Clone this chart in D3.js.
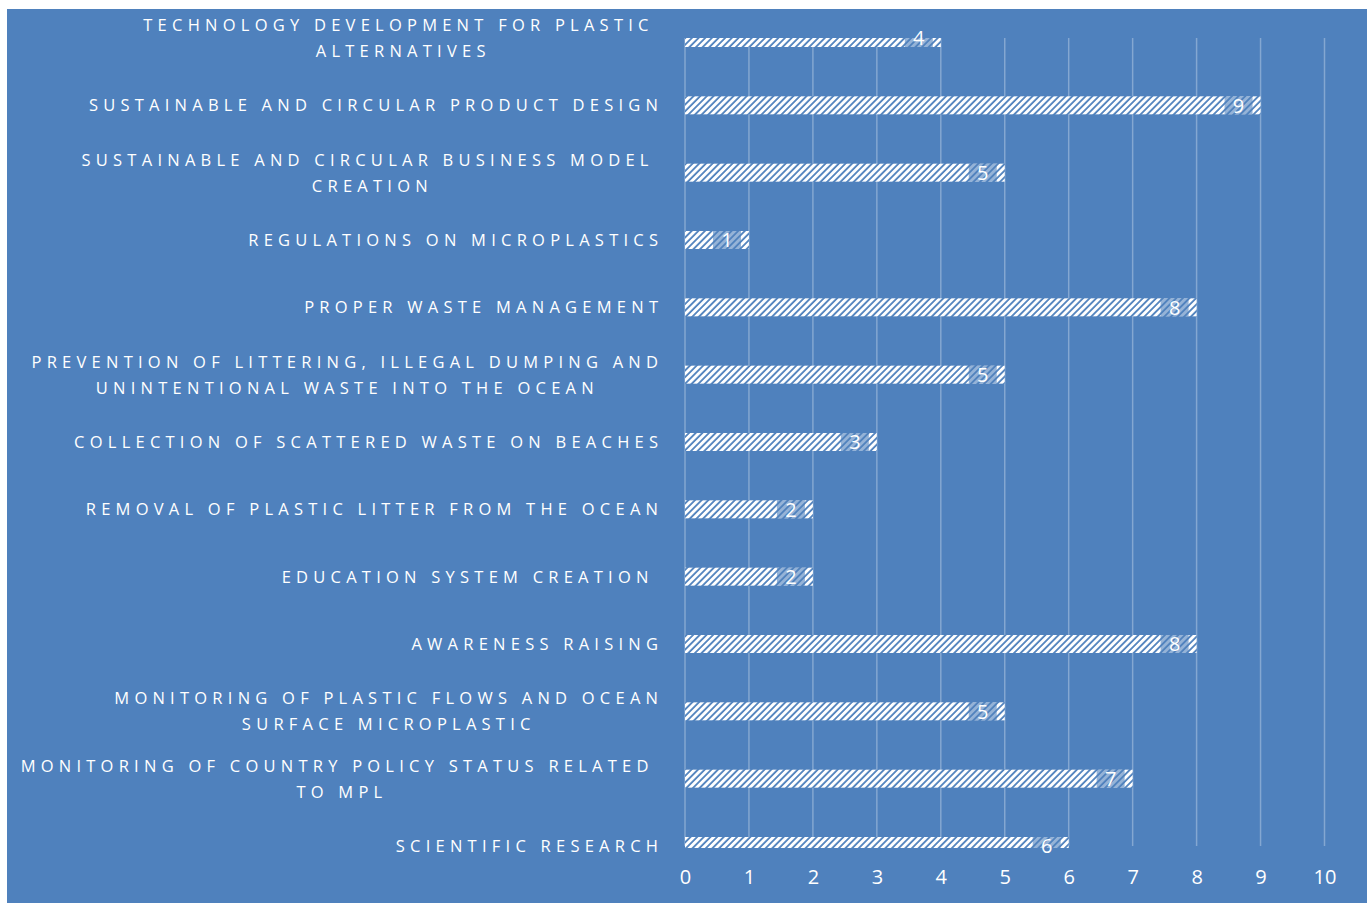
<!DOCTYPE html>
<html><head><meta charset="utf-8">
<script src="https://cdn.jsdelivr.net/npm/d3@7"></script>
<style>body{margin:0;background:#fff}svg{display:block}</style>
</head><body>
<svg id="c" width="1371" height="903"></svg>
<script>
// ---- data ----
const categories = [
  "TECHNOLOGY DEVELOPMENT FOR PLASTIC \nALTERNATIVES",
  "SUSTAINABLE AND CIRCULAR PRODUCT DESIGN",
  "SUSTAINABLE AND CIRCULAR BUSINESS MODEL \nCREATION",
  "REGULATIONS ON MICROPLASTICS",
  "PROPER WASTE MANAGEMENT",
  "PREVENTION OF LITTERING, ILLEGAL DUMPING AND\nUNINTENTIONAL WASTE INTO THE OCEAN",
  "COLLECTION OF SCATTERED WASTE ON BEACHES",
  "REMOVAL OF PLASTIC LITTER FROM THE OCEAN",
  "EDUCATION SYSTEM CREATION ",
  "AWARENESS RAISING",
  "MONITORING OF PLASTIC FLOWS AND OCEAN\nSURFACE MICROPLASTIC",
  "MONITORING OF COUNTRY POLICY STATUS RELATED \nTO MPL",
  "SCIENTIFIC RESEARCH"
];
const values = [4, 9, 5, 1, 8, 5, 3, 2, 2, 8, 5, 7, 6];
const tickValues = [0, 1, 2, 3, 4, 5, 6, 7, 8, 9, 10];

// ---- layout ----
const W = 1371, H = 903;
const BG = "#4f81bd";
const plot = {left: 685, right: 1324.5, top: 38, bottom: 846};
const barH = 18;
const labelRight = 658;

const svg = d3.select("#c");
svg.append("rect").attr("x", 7).attr("y", 9).attr("width", 1360).attr("height", H - 9).attr("fill", BG);

const defs = svg.append("defs");
const pat = defs.append("pattern").attr("id", "hatch").attr("patternUnits", "userSpaceOnUse")
  .attr("width", 4.7).attr("height", 4.7).attr("patternTransform", "rotate(45)");
pat.append("rect").attr("width", 4.7).attr("height", 4.7).attr("fill", BG);
pat.append("rect").attr("width", 2.9).attr("height", 4.7).attr("fill", "#ffffff");
defs.append("clipPath").attr("id", "plotclip").append("rect")
  .attr("x", plot.left - 2).attr("y", plot.top).attr("width", plot.right - plot.left + 4).attr("height", plot.bottom + 2 - plot.top);

const x = d3.scaleLinear().domain([0, 10]).range([plot.left, plot.right]);
const y = d3.scalePoint().domain(categories).range([plot.top, plot.bottom]);

// gridlines
svg.append("g").selectAll("line").data(tickValues).join("line")
  .attr("x1", d => x(d)).attr("x2", d => x(d))
  .attr("y1", plot.top).attr("y2", plot.bottom)
  .attr("stroke", "rgba(255,255,255,0.3)").attr("stroke-width", 1.5);

// bars
const data = categories.map((c, i) => ({c, v: values[i]}));
const bars = svg.append("g").attr("clip-path", "url(#plotclip)");
bars.selectAll("rect.bar").data(data).join("rect").attr("class", "bar")
  .attr("x", x(0)).attr("y", d => y(d.c) - barH / 2)
  .attr("width", d => x(d.v) - x(0)).attr("height", barH)
  .attr("fill", "url(#hatch)");
bars.selectAll("rect.lbl").data(data).join("rect").attr("class", "lbl")
  .attr("x", d => x(d.v) - 36).attr("y", d => y(d.c) - barH / 2)
  .attr("width", 28).attr("height", barH)
  .attr("fill", BG).attr("fill-opacity", 0.6);

// data labels
svg.append("g").selectAll("text").data(data).join("text")
  .attr("x", d => x(d.v) - 22).attr("y", d => y(d.c))
  .attr("dy", "0.36em").attr("text-anchor", "middle")
  .attr("font-family", "'Open Sans', sans-serif").attr("font-size", 20)
  .attr("fill", "#fff").text(d => d.v);

// x axis tick labels
const xAxis = d3.axisBottom(x).tickValues(tickValues).tickSize(0).tickPadding(0);
const ax = svg.append("g").attr("transform", `translate(0,${877})`).call(xAxis);
ax.select(".domain").remove();
ax.selectAll("text").attr("font-family", "'Open Sans', sans-serif").attr("font-size", 20)
  .attr("fill", "#fff").attr("dy", "0.36em").attr("y", 0);

// category labels with calibrated letter-spacing
const font = "'Open Sans', sans-serif", fs = 16.5;
const probe = svg.append("text").attr("font-family", font).attr("font-size", fs)
  .style("white-space", "pre").text("REGULATIONS ON MICROPLASTICS");
const w0 = probe.node().getComputedTextLength();
probe.remove();
const ls = (411 + 4 - w0) / 28;

const lg = svg.append("g");
categories.forEach(c => {
  const lines = c.split("\n");
  const g = lg.append("g");
  const ts = lines.map((ln, i) => g.append("text")
    .attr("font-family", font).attr("font-size", fs).attr("fill", "#fff")
    .style("letter-spacing", ls + "px").style("white-space", "pre")
    .attr("text-anchor", "middle")
    .attr("y", y(c) + (i - (lines.length - 1) / 2) * 26).attr("dy", "0.36em")
    .text(ln));
  const widths = ts.map(t => t.node().getComputedTextLength());
  const bw = d3.max(widths);
  const cx = labelRight + ls - bw / 2;
  ts.forEach(t => t.attr("x", cx));
});
</script>
</body></html>
